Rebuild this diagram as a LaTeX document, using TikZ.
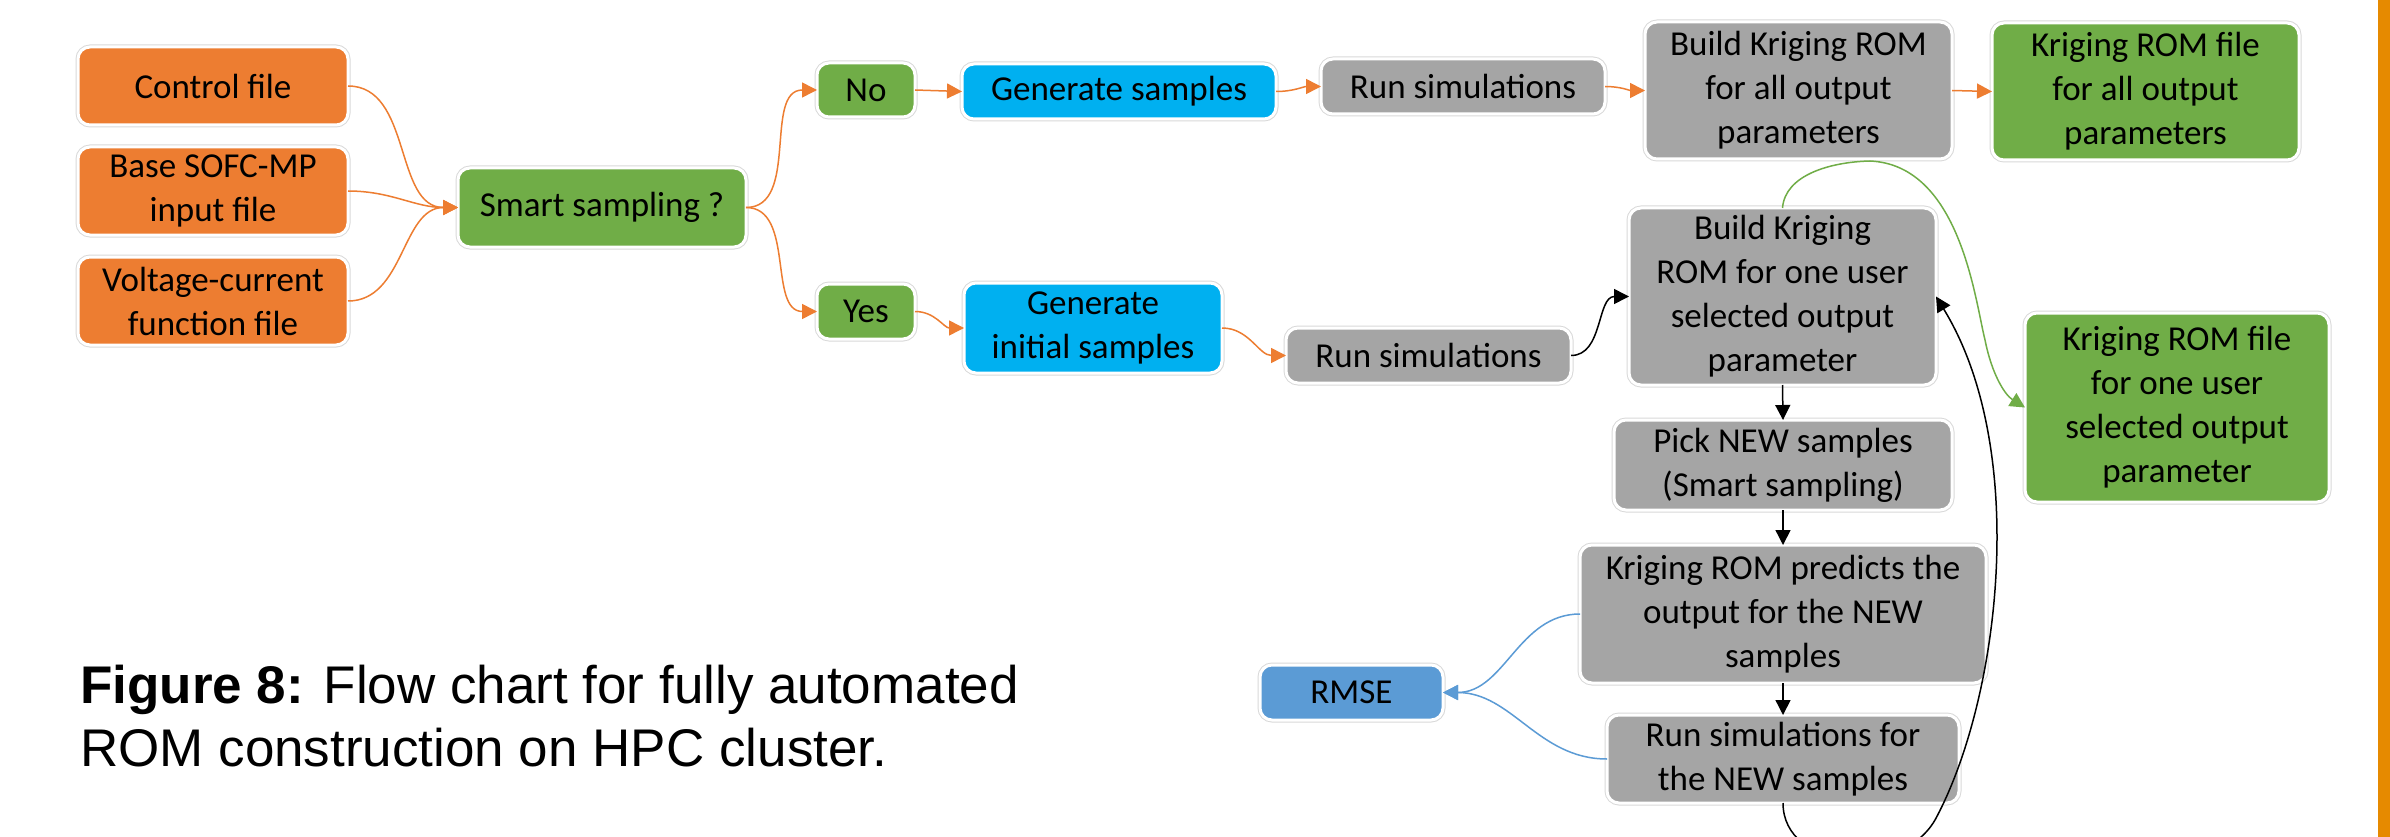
\documentclass[tikz,border=0pt]{standalone}
\usepackage{fontspec}
\setmainfont{Carlito}
\newfontfamily\capfont{Liberation Sans}
\usetikzlibrary{arrows.meta}
\definecolor{cOrange}{HTML}{ED7D31}
\definecolor{cGreen}{HTML}{70AD47}
\definecolor{cCyan}{HTML}{00B0F0}
\definecolor{cGray}{HTML}{A5A5A5}
\definecolor{cBlue}{HTML}{5B9BD5}
\definecolor{cBar}{HTML}{E68A00}
\definecolor{cHalo}{HTML}{D9D9D9}
\tikzset{
  box/.style={rectangle, rounded corners=12pt, inner sep=0pt, outer sep=0pt,
    align=center, text=black, font=\fontsize{35}{44}\selectfont,
    preaction={draw=cHalo, line width=5pt}, draw=white, line width=3pt},
  obox/.style={box, fill=cOrange},
  gbox/.style={box, fill=cGreen},
  cbox/.style={box, fill=cCyan},
  sbox/.style={box, fill=cGray},
  bbox/.style={box, fill=cBlue},
  tip/.style={-{Triangle[length=15pt,width=15pt]}},
  oline/.style={tip, draw=cOrange, line width=1.5pt},
  kline/.style={tip, draw=black, line width=1.5pt},
  gline/.style={tip, draw=cGreen, line width=1.5pt},
  bline/.style={tip, draw=cBlue, line width=1.5pt},
  captext/.style={anchor=base west, inner sep=0pt, font=\capfont\fontsize{53}{64}\selectfont}
}
\begin{document}
\begin{tikzpicture}[x=1pt,y=-1pt]
\useasboundingbox (0,0) rectangle (2390,837);
\fill[white] (0,0) rectangle (2390,837);
\fill[cBar] (2378,0) rectangle (2390,837);

% nodes
\node[obox, minimum width=270pt, minimum height=78pt] (ctrl) at (213,86) {Control file};
\node[obox, minimum width=270pt, minimum height=88pt] (base) at (213,191) {Base SOFC-MP\\input file};
\node[obox, minimum width=270pt, minimum height=88pt] (volt) at (213,301) {Voltage-current\\function file};
\node[gbox, minimum width=288pt, minimum height=79pt] (smart) at (602,207.5) {Smart sampling ?};
\node[gbox, minimum width=98pt, minimum height=54pt] (no) at (866,90) {No};
\node[cbox, minimum width=314pt, minimum height=55pt] (gens) at (1119,91.5) {Generate samples};
\node[sbox, minimum width=284pt, minimum height=55pt] (runs1) at (1463,86.5) {Run simulations};
\node[sbox, minimum width=307pt, minimum height=137pt] (buildall) at (1798.5,90.5) {Build Kriging ROM\\for all output\\parameters};
\node[gbox, minimum width=307pt, minimum height=137pt] (fileall) at (2145.5,91.5) {Kriging ROM file\\for all output\\parameters};
\node[gbox, minimum width=98pt, minimum height=55pt] (yes) at (866,311.5) {Yes};
\node[cbox, minimum width=258pt, minimum height=90pt] (geni) at (1093,328) {Generate\\initial samples};
\node[sbox, minimum width=285pt, minimum height=55pt] (runs2) at (1428.5,355.5) {Run simulations};
\node[sbox, minimum width=307pt, minimum height=177pt] (buildone) at (1782.5,296.5) {Build Kriging\\ROM for one user\\selected output\\parameter};
\node[gbox, minimum width=304pt, minimum height=189pt] (fileone) at (2177,407.5) {Kriging ROM file\\for one user\\selected output\\parameter};
\node[sbox, minimum width=338pt, minimum height=90pt] (pick) at (1783,465) {Pick NEW samples\\(Smart sampling)};
\node[sbox, minimum width=406pt, minimum height=138pt] (pred) at (1783,614) {Kriging ROM predicts the\\output for the NEW\\samples};
\node[sbox, minimum width=352pt, minimum height=88pt] (runnew) at (1783,759) {Run simulations for\\the NEW samples};
\node[bbox, minimum width=183pt, minimum height=55pt] (rmse) at (1351.5,692.5) {RMSE};

\node[captext] (cap1) at (80,703) {\textbf{Figure 8:} Flow chart for fully automated};
\node[captext] (cap2) at (80,766) {ROM construction on HPC cluster.};

% orange connectors
\draw[oline] (ctrl.east) to[out=0,in=180] (smart.west);
\draw[oline] (base.east) to[out=0,in=180] (smart.west);
\draw[oline] (volt.east) to[out=0,in=180] (smart.west);
\draw[oline] (smart.east) to[out=0,in=180] (no.west);
\draw[oline] (smart.east) to[out=0,in=180] (yes.west);
\draw[oline] (no.east) -- (gens.west);
\draw[oline] (gens.east) to[out=0,in=180] (runs1.west);
\draw[oline] (runs1.east) to[out=0,in=180] (buildall.west);
\draw[oline] (buildall.east) -- (fileall.west);
\draw[oline] (yes.east) to[out=0,in=180] (geni.west);
\draw[oline] (geni.east) to[out=0,in=180] (runs2.west);

% black connectors
\draw[kline] (runs2.east) to[out=0,in=180] (buildone.west);
\draw[kline] (buildone.south) -- (pick.north);
\draw[kline] (pick.south) -- (pred.north);
\draw[kline] (pred.south) -- (runnew.north);
\coordinate (lp) at (1935,820);
\draw[kline] (runnew.south) .. controls (1783,870) and (1900,880) .. (lp)
  .. controls (2000,700) and (2030,450) .. (buildone.east);

% green connector
\coordinate (g1) at (1870,161);
\coordinate (g2) at (1985,340);
\draw[gline] (buildone.north) .. controls (1785,175) and (1830,162) .. (g1)
  .. controls (1960,165) and (1975,300) .. (g2)
  .. controls (1992,375) and (2005,395) .. (fileone.west);

% blue connectors
\draw[bline] (pred.west) to[out=180,in=0] (rmse.east);
\draw[bline] (runnew.west) to[out=180,in=0] (rmse.east);
\end{tikzpicture}
\end{document}
